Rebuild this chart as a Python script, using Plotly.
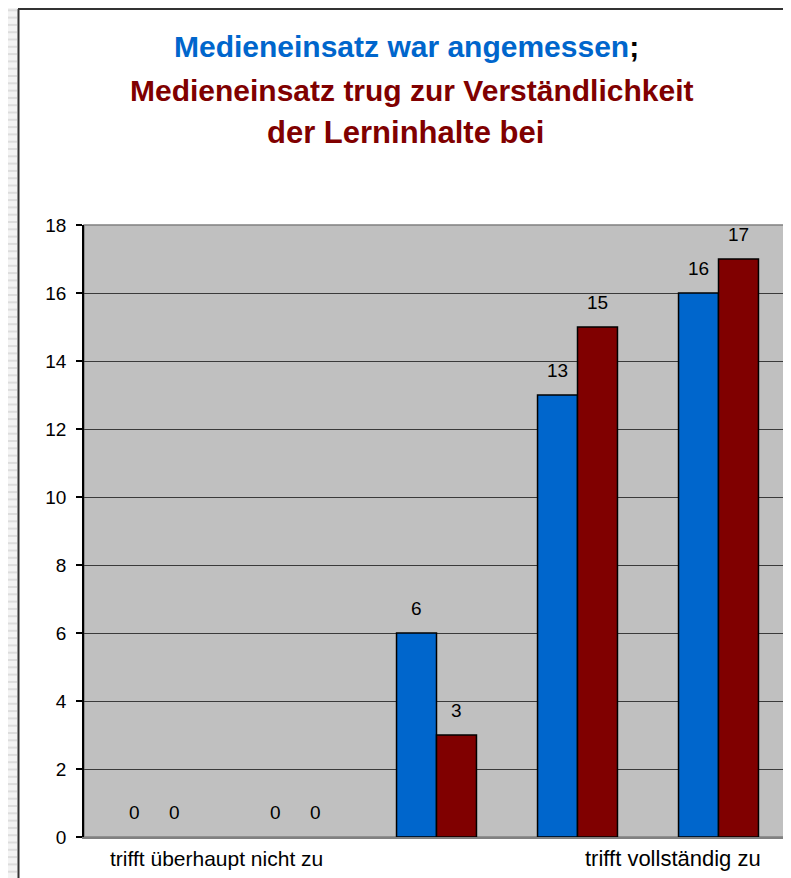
import plotly.graph_objects as go

# ---- data ----
scale_points = [1, 2, 3, 4, 5]
tick_labels = ["trifft überhaupt nicht zu", "", "", "", "trifft vollständig zu"]
series_names = ["Medieneinsatz war angemessen",
                "Medieneinsatz trug zur Verständlichkeit der Lerninhalte bei"]
values_angemessen = [0, 0, 6, 13, 16]
values_verstaendlich = [0, 0, 3, 15, 17]
y_ticks = [0, 2, 4, 6, 8, 10, 12, 14, 16, 18]

BLUE = "#0066CC"
RED = "#800000"
FONT = "Arial, Liberation Sans, sans-serif"

OFF = 8  # page body margin in the browser
W, H = 791 - OFF, 878 - OFF
L, R, T, B = 84 - OFF, 789 - OFF, 225 - OFF, 837 - OFF
PW, PH = R - L, B - T


def xp(px):  # reference-screenshot px -> paper
    return (px - OFF - L) / PW


def yp(py):
    return 1 - (py - OFF - T) / PH


fig = go.Figure()
for name, vals, col in [(series_names[0], values_angemessen, BLUE),
                        (series_names[1], values_verstaendlich, RED)]:
    fig.add_trace(go.Bar(
        x=scale_points, y=vals, name=name,
        marker=dict(color=col,
                    line=dict(color="#000000", width=[1.5 if v > 0 else 0 for v in vals])),
        hoverinfo="x+y",
    ))

annotations = []
# data labels
for vals, shift in [(values_angemessen, -20), (values_verstaendlich, 20)]:
    for c, v in zip(scale_points, vals):
        annotations.append(dict(
            x=c, y=v, xref="x", yref="y", text=str(v), showarrow=False,
            xshift=shift, yshift=25, font=dict(family=FONT, size=19, color="#000000"),
            xanchor="center", yanchor="middle"))

# category labels (first and last)
annotations.append(dict(x=xp(108), y=yp(858), xref="paper", yref="paper",
                        text=tick_labels[0], showarrow=False, xanchor="left", yanchor="middle",
                        font=dict(family=FONT, size=21, color="#000000")))
annotations.append(dict(x=xp(763), y=yp(858), xref="paper", yref="paper",
                        text=tick_labels[-1], showarrow=False, xanchor="right", yanchor="middle",
                        font=dict(family=FONT, size=22, color="#000000")))

# title lines
title_font = dict(family=FONT, size=30, color=RED)
annotations.append(dict(x=xp(406), y=yp(47), xref="paper", yref="paper", showarrow=False,
                        text=f"<b><span style='color:{BLUE}'>{series_names[0]}</span>"
                             f"<span style='color:#000000'>;</span></b>",
                        font=title_font, xanchor="center", yanchor="middle"))
annotations.append(dict(x=xp(411), y=yp(91), xref="paper", yref="paper", showarrow=False,
                        text="<b>Medieneinsatz trug zur Verständlichkeit</b>",
                        font=title_font, xanchor="center", yanchor="middle"))
annotations.append(dict(x=xp(405), y=yp(132), xref="paper", yref="paper", showarrow=False,
                        text="<b>der Lerninhalte bei</b>",
                        font=dict(family=FONT, size=31, color=RED),
                        xanchor="center", yanchor="middle"))

shapes = []
# striped background at left
shapes.append(dict(type="rect", xref="paper", yref="paper", x0=xp(8), x1=xp(18),
                   y0=yp(878), y1=yp(8), fillcolor="#f3f3f3", line=dict(width=0), layer="below"))
k = 0
while 3 + k * 7.3 < 876:
    yy = 3 + k * 7.3
    if yy > 9:
        shapes.append(dict(type="line", xref="paper", yref="paper", x0=xp(8), x1=xp(17),
                           y0=yp(yy), y1=yp(yy), line=dict(color="#dcdcdc", width=2),
                           layer="below"))
    k += 1
# frame border
shapes.append(dict(type="line", xref="paper", yref="paper", x0=xp(18.5), x1=xp(18.5),
                   y0=yp(9), y1=yp(878), line=dict(color="#333333", width=2)))
shapes.append(dict(type="line", xref="paper", yref="paper", x0=xp(18), x1=xp(790),
                   y0=yp(9), y1=yp(9), line=dict(color="#333333", width=2)))
# plot area border
shapes.append(dict(type="rect", xref="paper", yref="paper", x0=0, x1=1, y0=0, y1=1,
                   line=dict(color="#808080", width=1.5), fillcolor="rgba(0,0,0,0)", layer="below"))

fig.update_layout(
    width=W, height=H,
    margin=dict(l=L, r=W - R, t=T, b=H - B, pad=0),
    paper_bgcolor="#ffffff",
    plot_bgcolor="#C0C0C0",
    barmode="group", bargap=0.433, bargroupgap=0,
    showlegend=False,
    font=dict(family=FONT, size=19, color="#000000"),
    xaxis=dict(type="linear", range=[0.5, 5.5], tickvals=scale_points,
               showticklabels=False, ticks="", showgrid=False, zeroline=False,
               showline=True, linecolor="#808080", linewidth=1.5),
    yaxis=dict(range=[0, 18], tickvals=y_ticks, showgrid=True, gridcolor="#3a3a3a",
               gridwidth=1, zeroline=False, showline=True, linecolor="#000000", linewidth=1.5,
               ticks="outside", ticklen=6, tickcolor="#000000", tickwidth=1.5,
               ticklabelstandoff=6,
               tickfont=dict(family=FONT, size=19, color="#000000")),
    annotations=annotations,
    shapes=shapes,
)

fig.write_html("out.html")
